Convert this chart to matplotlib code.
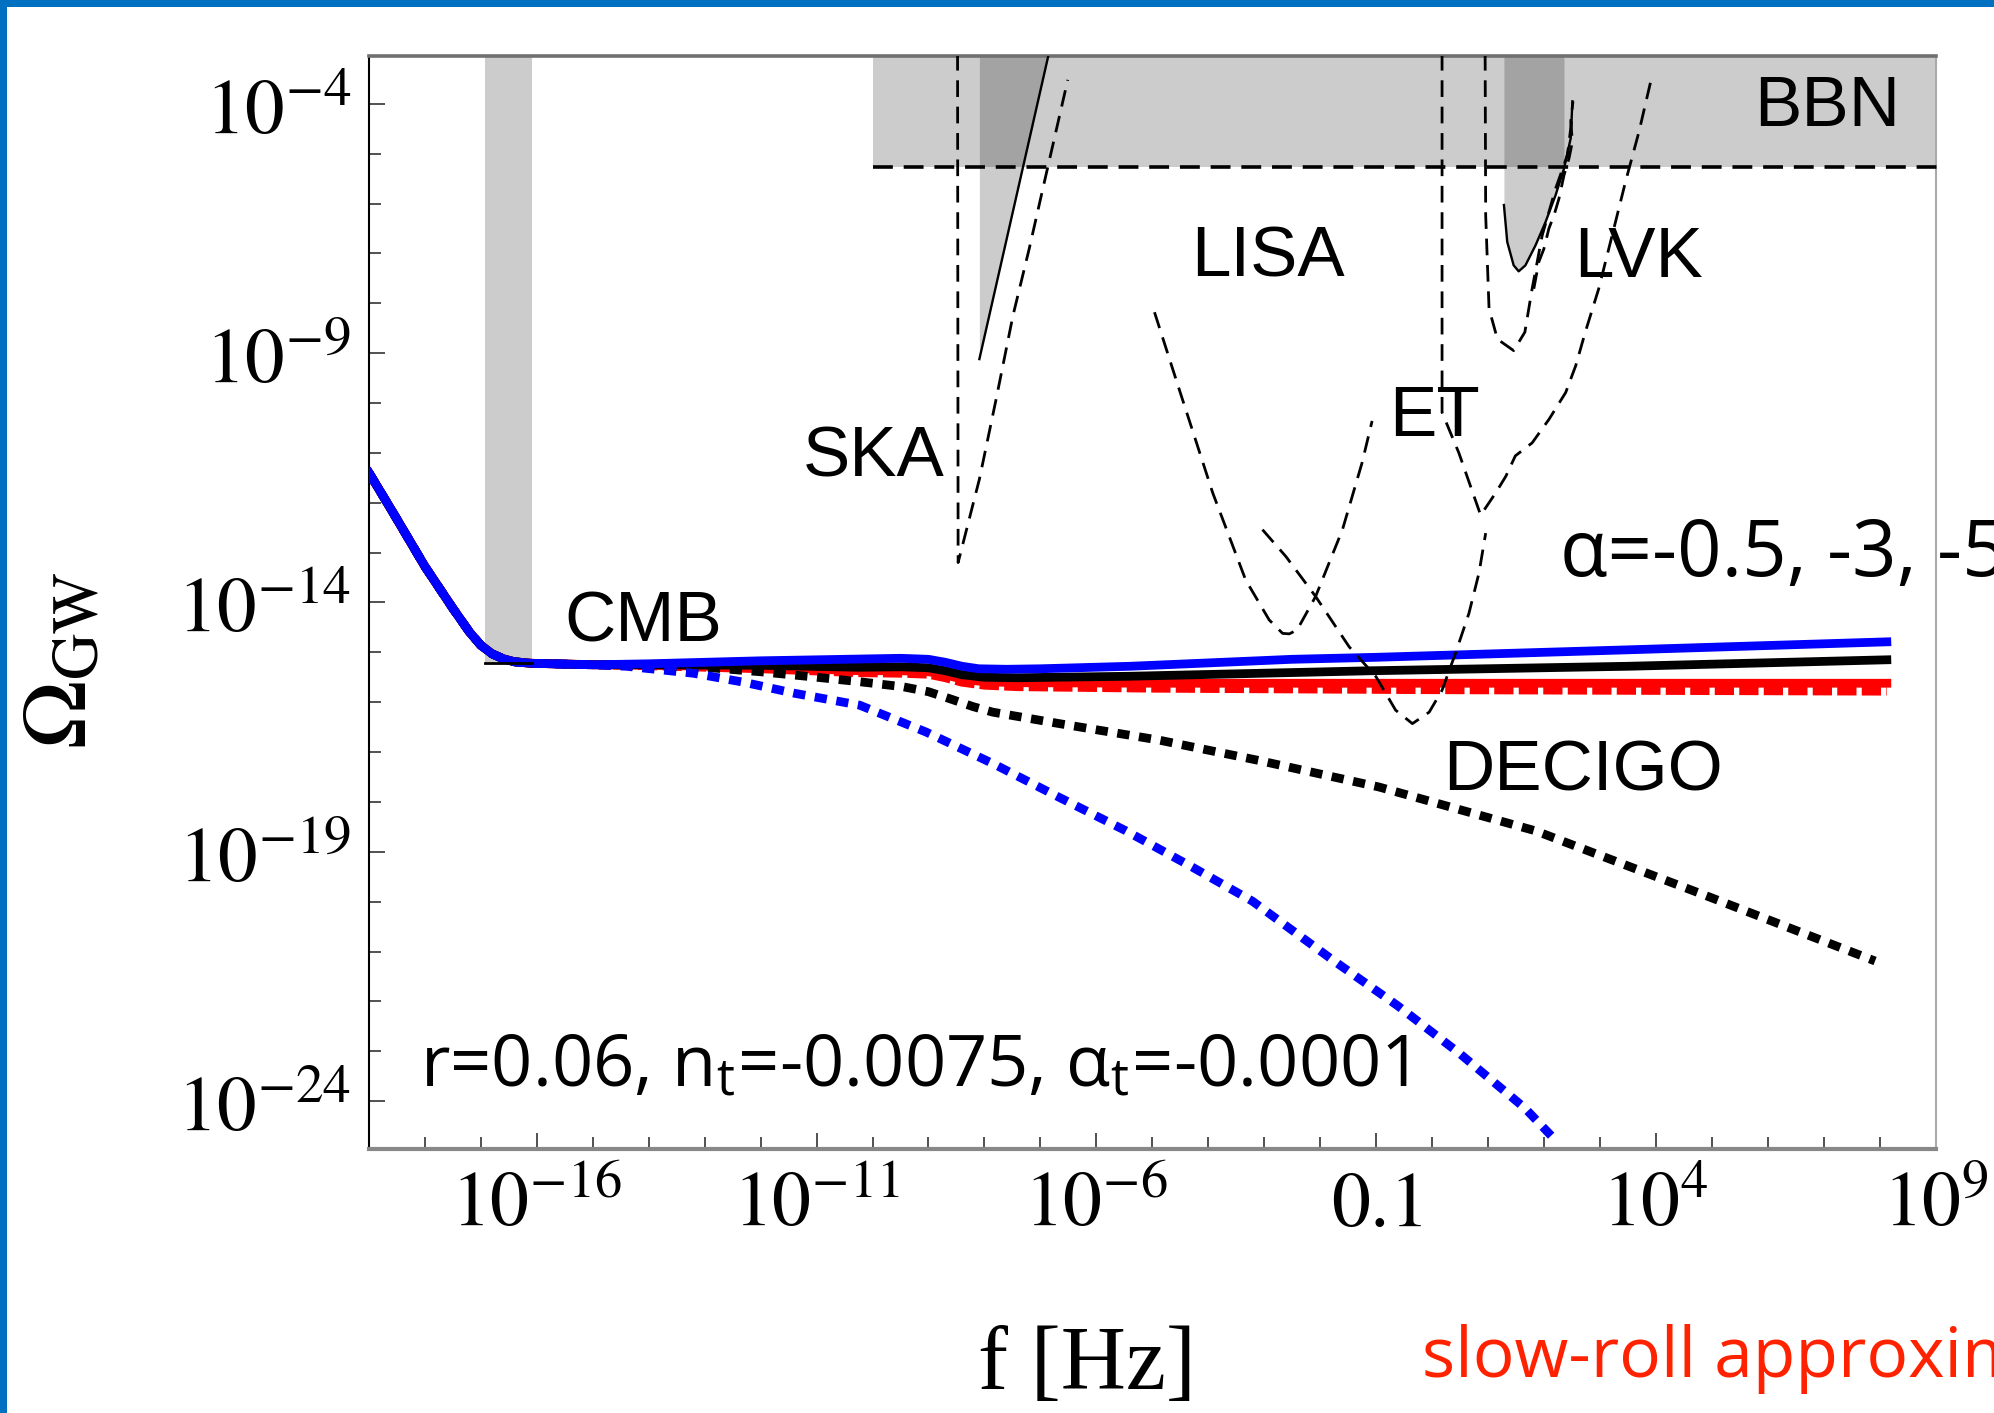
import numpy as np
import matplotlib
matplotlib.use("Agg")
import matplotlib.pyplot as plt
from matplotlib.patches import Rectangle

plt.rcParams["mathtext.fontset"] = "stix"

# all values are log10 numbers
# low-frequency part shared by the six spectra
low_logf = [-19.0, -18.57, -18.0, -17.5, -17.2, -17.0, -16.8, -16.6, -16.4, -16.1]
low_logomega = [-11.40, -12.20, -13.28, -14.12, -14.60, -14.86, -15.03, -15.13, -15.19, -15.22]

blue_logf = [-15.0, -14.0, -12.0, -10.5, -9.5, -9.0, -8.7, -8.4, -8.1, -7.6, -7.0, -5.4, -2.5, -1.0, 3.5, 8.13]
blue_logomega = [-15.25, -15.23, -15.17, -15.14, -15.12, -15.14, -15.2, -15.28, -15.33, -15.34, -15.33, -15.28, -15.14, -15.1, -14.95, -14.79]

black_logf = [-15.0, -14.0, -12.0, -10.23, -9.5, -9.0, -8.7, -8.4, -8.0, -7.4, -5.4, -1.1, 3.5, 8.13]
black_logomega = [-15.25, -15.25, -15.26, -15.30, -15.29, -15.31, -15.37, -15.45, -15.50, -15.51, -15.48, -15.37, -15.28, -15.15]

red_logf = [-15.0, -14.0, -12.0, -10.23, -9.5, -9.0, -8.7, -8.4, -8.0, -7.4, -5.0, 0.0, 8.13]
red_logomega = [-15.25, -15.26, -15.30, -15.37, -15.37, -15.39, -15.45, -15.54, -15.59, -15.61, -15.62, -15.62, -15.62]

red_dash_logf = [-14.0, -12.0, -10.23, -9.5, -9.0, -8.7, -8.4, -8.0, -7.4, -5.0, 0.0, 8.13]
red_dash_logomega = [-15.27, -15.33, -15.41, -15.42, -15.44, -15.51, -15.60, -15.66, -15.69, -15.72, -15.75, -15.78]

black_dot_logf = [-15.0, -14.0, -13.0, -12.0, -11.0, -10.23, -9.46, -9.0, -8.62, -8.2, -7.85, -6.66, -4.88, -3.09, -0.95, 1.85, 4.83, 7.92]
black_dot_logomega = [-15.25, -15.27, -15.30, -15.39, -15.50, -15.59, -15.69, -15.79, -15.93, -16.09, -16.20, -16.43, -16.76, -17.17, -17.70, -18.58, -19.85, -21.19]

blue_dot_logf = [-15.0, -14.4, -13.2, -12.3, -11.4, -10.23, -9.04, -7.85, -6.66, -5.47, -4.28, -3.21, -1.75, -0.61, 0.5, 1.66, 2.23]
blue_dot_logomega = [-15.25, -15.28, -15.42, -15.60, -15.82, -16.06, -16.60, -17.23, -17.91, -18.58, -19.31, -19.99, -21.19, -22.09, -23.05, -24.14, -24.81]

# detector sensitivity curves
ska_logf = [-8.48, -8.47, -8.09, -7.79, -7.49, -7.20, -6.90, -6.51]
ska_logomega = [-3.0, -13.2, -11.53, -9.92, -8.25, -6.91, -5.43, -3.52]

lisa_logf = [-4.96, -4.52, -3.92, -3.33, -2.91, -2.67, -2.55, -2.41, -2.08, -1.60, -1.25, -1.07]
lisa_logomega = [-8.18, -9.72, -11.80, -13.55, -14.35, -14.62, -14.63, -14.55, -13.88, -12.54, -11.2, -10.36]

decigo_logf = [-3.03, -2.61, -2.08, -1.48, -1.0, -0.65, -0.35, -0.05, 0.18, 0.42, 0.66, 0.84, 0.96]
decigo_logomega = [-12.54, -13.08, -13.88, -14.89, -15.49, -16.16, -16.43, -16.20, -15.76, -15.02, -14.22, -13.41, -12.61]

et_logf = [0.18, 0.18, 0.18, 0.48, 0.87, 1.14, 1.32, 1.49, 1.79, 2.09, 2.39, 2.57, 2.74, 2.98, 3.22, 3.46, 3.70, 3.91]
et_logomega = [-3.0, -7.78, -10.19, -11.0, -12.25, -11.80, -11.47, -11.06, -10.80, -10.33, -9.79, -9.25, -8.58, -7.71, -6.64, -5.56, -4.56, -3.55]

ligo_logf = [0.95, 0.96, 1.02, 1.17, 1.46, 1.66, 1.79, 1.97, 2.21, 2.42, 2.51]
ligo_logomega = [-3.0, -6.24, -8.11, -8.72, -8.95, -8.58, -7.71, -6.64, -5.70, -5.03, -4.22]

lvk_logf = [1.286, 1.345, 1.46, 1.55, 1.67, 1.85, 2.03, 2.21, 2.36, 2.48, 2.51]
lvk_logomega = [-6.03, -6.77, -7.24, -7.36, -7.24, -6.84, -6.37, -5.83, -5.30, -4.69, -3.95]

lvk2_logf = [1.82, 1.91, 2.0, 2.09, 2.18, 2.27, 2.36, 2.45, 2.51, 2.48, 2.52]
lvk2_logomega = [-7.71, -7.17, -6.91, -6.50, -6.24, -5.90, -5.43, -5.09, -4.76, -4.36, -3.95]

pta_logf = [-8.09, -6.84]
pta_logomega = [-9.12, -2.95]

cmb_logf = [-16.93, -16.09]
cmb_logomega = -15.21
bbn_logf = [-10.0, 9.15]
bbn_logomega = -5.26

xmajor = [-16, -11, -6, -1, 4, 9]
xlabels = [r"$10^{-16}$", r"$10^{-11}$", r"$10^{-6}$", r"$0.1$", r"$10^{4}$", r"$10^{9}$"]
ymajor = [-24, -19, -14, -9, -4]
ylabels = [r"$10^{-24}$", r"$10^{-19}$", r"$10^{-14}$", r"$10^{-9}$", r"$10^{-4}$"]


def tolin(a):
    return 10.0 ** np.asarray(a, dtype=float)


def spectrum(logf, logomega):
    return tolin(low_logf + logf), tolin(low_logomega + logomega)


fig = plt.figure(figsize=(19.94, 14.13), dpi=100)
ax = fig.add_axes([369 / 1994, 1 - 1149 / 1413, (1935.5 - 369) / 1994, (1149 - 55.9) / 1413])
ax.set_xscale("log")
ax.set_yscale("log")
ax.set_xlim(1e-19, 1e9)
ax.set_ylim(10 ** -24.96, 10 ** -3.04)

# shaded exclusion regions (overlaps turn darker)
shade = dict(color="k", alpha=0.2, lw=0, zorder=0.5)
ax.fill_between(tolin(bbn_logf), 10 ** bbn_logomega, 1e-2, **shade)
ax.fill_between(tolin(cmb_logf), 10 ** cmb_logomega, 1e-2, **shade)
ax.fill_between(tolin(pta_logf), tolin(pta_logomega), 1e-2, **shade)
ax.fill_between(tolin(lvk_logf[:9]), tolin(lvk_logomega[:9]), 1e-2, **shade)

# spectra
lw = 6.3
ax.plot(*spectrum(red_dash_logf, red_dash_logomega), color="red", lw=lw, ls=(0, (2.2, 0.6)), zorder=3)
ax.plot(*spectrum(red_logf, red_logomega), color="red", lw=lw, zorder=3)
ax.plot(*spectrum(black_dot_logf, black_dot_logomega), color="k", lw=lw, ls=(0, (1.4, 1.1)), zorder=3)
ax.plot(*spectrum(black_logf, black_logomega), color="k", lw=lw, zorder=3)
ax.plot(*spectrum(blue_dot_logf, blue_dot_logomega), color="blue", lw=lw, ls=(0, (1.4, 1.1)), zorder=3)
ax.plot(*spectrum(blue_logf, blue_logomega), color="blue", lw=lw, zorder=3)

# sensitivity curves
dash = dict(color="k", lw=2.0, ls=(0, (6, 3.5)), zorder=4)
for lf, lo in [(ska_logf, ska_logomega), (lisa_logf, lisa_logomega),
               (decigo_logf, decigo_logomega), (et_logf, et_logomega),
               (ligo_logf, ligo_logomega), (lvk2_logf, lvk2_logomega)]:
    ax.plot(tolin(lf), tolin(lo), **dash)
ax.plot(tolin(lvk_logf), tolin(lvk_logomega), color="k", lw=1.7, zorder=4)
ax.plot(tolin(pta_logf), tolin(pta_logomega), color="k", lw=1.7, zorder=4)
ax.plot(tolin(cmb_logf), [10 ** cmb_logomega] * 2, color="k", lw=2.0, zorder=4)
ax.plot(tolin(bbn_logf), [10 ** bbn_logomega] * 2, color="k", lw=2.6, ls=(0, (5.5, 3)),
        zorder=4, clip_on=False)

# labels of the experiments
lab = dict(family="Liberation Sans", fontsize=51, ha="center", va="baseline", zorder=5)
ax.text(10 ** 7.07, 10 ** -4.44, "BBN", **lab)
ax.text(10 ** -2.93, 10 ** -7.46, "LISA", **lab)
ax.text(10 ** 3.70, 10 ** -7.47, "LVK", **lab)
ax.text(10 ** 0.04, 10 ** -10.66, "ET", **lab)
ax.text(10 ** -9.98, 10 ** -11.47, "SKA", **lab)
ax.text(10 ** -14.10, 10 ** -14.79, "CMB", **lab)
ax.text(10 ** 2.70, 10 ** -17.77, "DECIGO", **lab)

# axes styling
ax.set_xticks(tolin(xmajor))
ax.set_xticklabels(xlabels, fontsize=56)
ax.set_xticks([10.0 ** k for k in range(-18, 9) if k not in xmajor], minor=True)
ax.set_yticks(tolin(ymajor))
ax.set_yticklabels(ylabels, fontsize=57)
ax.set_yticks([10.0 ** k for k in range(-24, -3) if k not in ymajor], minor=True)
ax.xaxis.set_minor_formatter(plt.NullFormatter())
ax.yaxis.set_minor_formatter(plt.NullFormatter())
ax.tick_params(which="both", direction="in", top=False, right=False, width=1.1, color="#222222")
ax.tick_params(which="major", length=11.5)
ax.tick_params(which="minor", length=8.5)
ax.tick_params(axis="x", pad=12)
ax.tick_params(axis="y", pad=13)
ax.spines["left"].set(color="k", lw=1.5)
ax.spines["right"].set(color="#aaaaaa", lw=1.5)
ax.spines["top"].set(color="#707070", lw=2.6)
ax.spines["bottom"].set(color="#888888", lw=3.0)

fig.text(60 / 1994, 1 - 660 / 1413, r"$\Omega_{\rm GW}$", fontsize=66, rotation=90,
         ha="center", va="center")
fig.text(1087 / 1994, 1 - 1389 / 1413, "f [Hz]", family="Liberation Serif", fontsize=65,
         ha="center", va="baseline")

# slide overlay texts
fig.text(1560 / 1994, 1 - 576 / 1413, "α=-0.5, -3, -5", family="Open Sans", fontsize=56,
         va="baseline", ha="left")
fig.text(420 / 1994, 1 - 1086 / 1413,
         r"r=0.06, n$_\mathregular{t}$=-0.0075, α$_\mathregular{t}$=-0.0001",
         family="Open Sans", fontsize=52, va="baseline", ha="left")
fig.text(1422 / 1994, 1 - 1377 / 1413, "slow-roll approximation", family="Open Sans",
         fontsize=50, color="#ff2200", va="baseline", ha="left")

# blue slide frame on top and left
fig.add_artist(Rectangle((0, 1 - 7 / 1413), 1, 7 / 1413, transform=fig.transFigure,
                         color="#0070c0", lw=0, zorder=10))
fig.add_artist(Rectangle((0, 0), 7 / 1994, 1, transform=fig.transFigure,
                         color="#0070c0", lw=0, zorder=10))

fig.savefig("out.png", dpi=100)
